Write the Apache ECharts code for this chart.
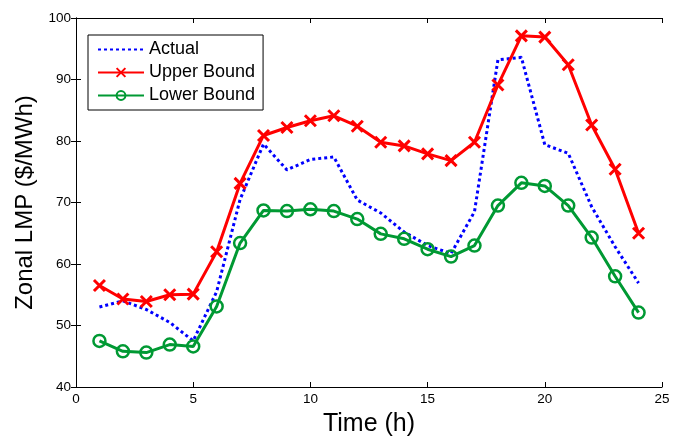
<!DOCTYPE html>
<html>
<head>
<meta charset="utf-8">
<script src="https://cdn.jsdelivr.net/npm/echarts@6/dist/echarts.min.js"></script>
<style>html,body{margin:0;padding:0;background:#fff}#c{width:673px;height:436px}</style>
</head>
<body>
<div id="c"></div>
<script>
const hours = [1,2,3,4,5,6,7,8,9,10,11,12,13,14,15,16,17,18,19,20,21,22,23,24];
const actual = [53.0,54.0,52.6,50.5,47.5,55.5,70.5,79.5,75.3,77.0,77.4,70.4,68.3,65.2,63.0,61.7,68.5,93.2,93.6,79.4,78.0,69.3,62.8,56.9];
const upper = [56.5,54.3,53.9,55.0,55.1,62.0,73.1,80.9,82.2,83.3,84.1,82.4,79.8,79.2,77.9,76.8,79.8,89.1,97.1,96.9,92.4,82.6,75.4,65.0];
const lower = [47.5,45.8,45.6,46.9,46.6,53.1,63.4,68.7,68.6,68.9,68.6,67.3,64.9,64.1,62.4,61.2,63.0,69.5,73.2,72.7,69.5,64.3,58.0,52.1];
const seriesNames = ['Actual','Upper Bound','Lower Bound'];
const xTicks = {min:0, max:25, interval:5};
const yTicks = {min:40, max:100, interval:10};

const pairs = arr => hours.map((h,i)=>[h,arr[i]]);
const FONT = 'Liberation Sans, Arial, sans-serif';
const GREEN = '#009933';
const chart = echarts.init(document.getElementById('c'), null, {renderer:'canvas'});
const axisCommon = {
  axisLine:{show:true,lineStyle:{color:'#000',width:1}},
  axisTick:{show:true,inside:true,length:5,lineStyle:{color:'#000'}},
  splitLine:{show:false}
};
chart.setOption({
  animation:false,
  backgroundColor:'#fff',
  grid:{left:76,right:11,top:18,bottom:49,containLabel:false,outerBoundsMode:'none'},
  legend:{
    orient:'vertical', left:88, top:35,
    data:seriesNames,
    backgroundColor:'#fff', borderColor:'#000', borderWidth:1, borderRadius:0,
    padding:[5,8,5,9], itemGap:4, itemWidth:46, itemHeight:11,
    textStyle:{fontFamily:FONT,fontSize:18,color:'#000',lineHeight:19}
  },
  xAxis:[
    Object.assign({type:'value',position:'bottom',min:xTicks.min,max:xTicks.max,interval:xTicks.interval,
      name:'Time (h)',nameLocation:'middle',nameGap:25,
      nameTextStyle:{fontFamily:FONT,fontSize:25,color:'#000'},
      axisLabel:{fontFamily:FONT,fontSize:13.5,color:'#000',margin:5}},axisCommon),
    Object.assign({type:'value',position:'top',min:xTicks.min,max:xTicks.max,interval:xTicks.interval,
      axisLabel:{show:false}},axisCommon)
  ],
  yAxis:[
    Object.assign({type:'value',position:'left',min:yTicks.min,max:yTicks.max,interval:yTicks.interval,
      name:'Zonal LMP ($/MWh)',nameLocation:'middle',nameGap:39,
      nameTextStyle:{fontFamily:FONT,fontSize:24,color:'#000'},
      axisLabel:{fontFamily:FONT,fontSize:13.5,color:'#000',margin:5}},axisCommon),
    Object.assign({type:'value',position:'right',min:yTicks.min,max:yTicks.max,interval:yTicks.interval,
      axisLabel:{show:false}},axisCommon)
  ],
  series:[
    {name:seriesNames[0],type:'line',data:pairs(actual),showSymbol:false,symbol:'rect',
      lineStyle:{color:'#0000ff',width:3,type:[3,3]},itemStyle:{color:'rgba(0,0,0,0)',borderWidth:0},z:2},
    {name:seriesNames[1],type:'line',data:pairs(upper),symbol:'path://M0,0L10,10M10,0L0,10',symbolSize:11,
      lineStyle:{color:'#ff0000',width:3},
      itemStyle:{color:'rgba(0,0,0,0)',borderColor:'#ff0000',borderWidth:3},z:3},
    {name:seriesNames[2],type:'line',data:pairs(lower),symbol:'circle',symbolSize:12,
      lineStyle:{color:GREEN,width:3},
      itemStyle:{color:'rgba(0,0,0,0)',borderColor:GREEN,borderWidth:2.5},z:3}
  ]
});
</script>
</body>
</html>
